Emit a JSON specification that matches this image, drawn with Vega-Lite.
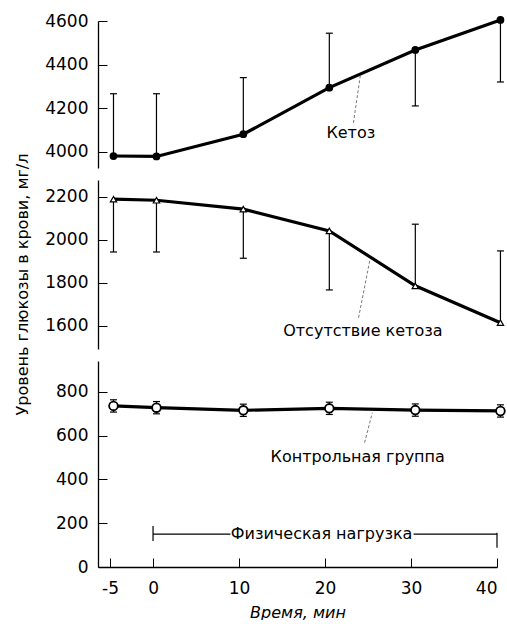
{
  "$schema": "https://vega.github.io/schema/vega-lite/v6.json",
  "background": "white",
  "padding": {"left": 13, "top": 12, "right": 5, "bottom": 0},
  "spacing": 12,
  "bounds": "flush",
  "config": {
    "view": {"stroke": null},
    "axis": {
      "grid": false,
      "domainColor": "black",
      "domainWidth": 1.3,
      "tickColor": "black",
      "tickWidth": 1,
      "tickSize": -9,
      "labelPadding": 19,
      "labelColor": "black",
      "labelFont": "DejaVu Sans",
      "labelFontSize": 17,
      "format": "d",
      "titleColor": "black",
      "titleFont": "DejaVu Sans",
      "titleFontWeight": "normal",
      "titleFontSize": 16
    },
    "axisX": {"labelPadding": 22, "titlePadding": 8, "labelExpr": "replace(datum.label, '−', '-')"},
    "text": {"font": "DejaVu Sans", "fontSize": 16, "color": "black"}
  },
  "datasets": {
    "series": [
      {"g": "k", "t": -4.6, "v": 3980, "e1": 3980, "e2": 4266},
      {"g": "k", "t": 0.4, "v": 3978, "e1": 3978, "e2": 4266},
      {"g": "k", "t": 10.5, "v": 4080, "e1": 4080, "e2": 4340},
      {"g": "k", "t": 20.5, "v": 4294, "e1": 4294, "e2": 4544},
      {"g": "k", "t": 30.5, "v": 4467, "e1": 4467, "e2": 4210},
      {"g": "k", "t": 40.4, "v": 4605, "e1": 4605, "e2": 4320},
      {"g": "n", "t": -4.6, "v": 2188, "e1": 2188, "e2": 1943},
      {"g": "n", "t": 0.4, "v": 2183, "e1": 2183, "e2": 1943},
      {"g": "n", "t": 10.5, "v": 2142, "e1": 2142, "e2": 1914},
      {"g": "n", "t": 20.5, "v": 2041, "e1": 2041, "e2": 1767},
      {"g": "n", "t": 30.5, "v": 1786, "e1": 1786, "e2": 2072},
      {"g": "n", "t": 40.4, "v": 1615, "e1": 1615, "e2": 1948},
      {"g": "c", "t": -4.6, "v": 735, "e1": 707, "e2": 763},
      {"g": "c", "t": 0.4, "v": 727, "e1": 699, "e2": 755},
      {"g": "c", "t": 10.5, "v": 715, "e1": 687, "e2": 743},
      {"g": "c", "t": 20.5, "v": 724, "e1": 696, "e2": 752},
      {"g": "c", "t": 30.5, "v": 716, "e1": 688, "e2": 744},
      {"g": "c", "t": 40.4, "v": 712, "e1": 684, "e2": 740}
    ],
    "labels": [
      {"g": "k", "t": 23.0, "v": 4087, "txt": "Кетоз"},
      {"g": "n", "t": 24.4, "v": 1577, "txt": "Отсутствие кетоза"},
      {"g": "c", "t": 23.8, "v": 503, "txt": "Контрольная группа"},
      {"g": "c", "t": 19.6, "v": 150, "txt": "Физическая нагрузка"}
    ],
    "leaders": [
      {"g": "k", "t": 23.3, "t2": 24.1, "v": 4132, "v2": 4348},
      {"g": "n", "t": 23.9, "t2": 25.2, "v": 1638, "v2": 1902},
      {"g": "c", "t": 24.6, "t2": 25.5, "v": 567, "v2": 704}
    ],
    "load": [
      {"t": 0, "t2": 9.0, "v": 150, "v2": 150},
      {"t": 30.3, "t2": 40, "v": 150, "v2": 150},
      {"t": 0, "t2": 0, "v": 119, "v2": 187},
      {"t": 40, "t2": 40, "v": 88, "v2": 156}
    ]
  },
  "vconcat": [
    {
      "width": 399,
      "height": 147,
      "layer": [
        {
          "data": {"name": "series"},
          "transform": [{"filter": "datum.g === 'k'"}],
          "mark": {"type": "rule", "color": "black", "strokeWidth": 1.2},
          "encoding": {
            "x": {"field": "t", "type": "quantitative", "scale": {"domain": [-6.4, 40], "nice": false, "zero": false}, "axis": null},
            "y": {"field": "e1", "type": "quantitative", "scale": {"domain": [3925, 4600], "nice": false, "zero": false}, "axis": {"values": [4000, 4200, 4400, 4600], "title": null}},
            "y2": {"field": "e2"}
          }
        },
        {
          "data": {"name": "series"},
          "transform": [{"filter": "datum.g === 'k'"}],
          "mark": {"type": "point", "shape": "M-1,0L1,0", "filled": false, "stroke": "black", "strokeWidth": 1.2, "size": 49, "opacity": 1},
          "encoding": {
            "x": {"field": "t", "type": "quantitative", "scale": {"domain": [-6.4, 40], "nice": false, "zero": false}, "axis": null},
            "y": {"field": "e2", "type": "quantitative", "scale": {"domain": [3925, 4600], "nice": false, "zero": false}, "axis": {"values": [4000, 4200, 4400, 4600], "title": null}}
          }
        },
        {
          "data": {"name": "series"},
          "transform": [{"filter": "datum.g === 'k'"}],
          "mark": {"type": "line", "color": "black", "strokeWidth": 3.2},
          "encoding": {
            "x": {"field": "t", "type": "quantitative", "scale": {"domain": [-6.4, 40], "nice": false, "zero": false}, "axis": null},
            "y": {"field": "v", "type": "quantitative", "scale": {"domain": [3925, 4600], "nice": false, "zero": false}, "axis": {"values": [4000, 4200, 4400, 4600], "title": null}}
          }
        },
        {
          "data": {"name": "series"},
          "transform": [{"filter": "datum.g === 'k'"}],
          "mark": {"type": "point", "shape": "circle", "filled": true, "color": "black", "size": 60, "opacity": 1},
          "encoding": {
            "x": {"field": "t", "type": "quantitative", "scale": {"domain": [-6.4, 40], "nice": false, "zero": false}, "axis": null},
            "y": {"field": "v", "type": "quantitative", "scale": {"domain": [3925, 4600], "nice": false, "zero": false}, "axis": {"values": [4000, 4200, 4400, 4600], "title": null}}
          }
        },
        {
          "data": {"name": "leaders"},
          "transform": [{"filter": "datum.g === 'k'"}],
          "mark": {"type": "rule", "color": "#555", "strokeWidth": 0.8, "strokeDash": [3, 2]},
          "encoding": {
            "x": {"field": "t", "type": "quantitative", "scale": {"domain": [-6.4, 40], "nice": false, "zero": false}, "axis": null},
            "x2": {"field": "t2"},
            "y": {"field": "v", "type": "quantitative", "scale": {"domain": [3925, 4600], "nice": false, "zero": false}, "axis": {"values": [4000, 4200, 4400, 4600], "title": null}},
            "y2": {"field": "v2"}
          }
        },
        {
          "data": {"name": "labels"},
          "transform": [{"filter": "datum.g === 'k'"}],
          "mark": {"type": "text", "align": "center", "baseline": "middle"},
          "encoding": {
            "x": {"field": "t", "type": "quantitative", "scale": {"domain": [-6.4, 40], "nice": false, "zero": false}, "axis": null},
            "y": {"field": "v", "type": "quantitative", "scale": {"domain": [3925, 4600], "nice": false, "zero": false}, "axis": {"values": [4000, 4200, 4400, 4600], "title": null}},
            "text": {"field": "txt"}
          }
        }
      ]
    },
    {
      "width": 399,
      "height": 169,
      "layer": [
        {
          "data": {"name": "series"},
          "transform": [{"filter": "datum.g === 'n'"}],
          "mark": {"type": "rule", "color": "black", "strokeWidth": 1.2},
          "encoding": {
            "x": {"field": "t", "type": "quantitative", "scale": {"domain": [-6.4, 40], "nice": false, "zero": false}, "axis": null},
            "y": {"field": "e1", "type": "quantitative", "scale": {"domain": [1493, 2277], "nice": false, "zero": false}, "axis": {"values": [1600, 1800, 2000, 2200], "title": "Уровень глюкозы в крови, мг/л", "titleX": -68, "titleY": 104}},
            "y2": {"field": "e2"}
          }
        },
        {
          "data": {"name": "series"},
          "transform": [{"filter": "datum.g === 'n'"}],
          "mark": {"type": "point", "shape": "M-1,0L1,0", "filled": false, "stroke": "black", "strokeWidth": 1.2, "size": 49, "opacity": 1},
          "encoding": {
            "x": {"field": "t", "type": "quantitative", "scale": {"domain": [-6.4, 40], "nice": false, "zero": false}, "axis": null},
            "y": {"field": "e2", "type": "quantitative", "scale": {"domain": [1493, 2277], "nice": false, "zero": false}, "axis": {"values": [1600, 1800, 2000, 2200], "title": "Уровень глюкозы в крови, мг/л", "titleX": -68, "titleY": 104}}
          }
        },
        {
          "data": {"name": "series"},
          "transform": [{"filter": "datum.g === 'n'"}],
          "mark": {"type": "line", "color": "black", "strokeWidth": 3.2},
          "encoding": {
            "x": {"field": "t", "type": "quantitative", "scale": {"domain": [-6.4, 40], "nice": false, "zero": false}, "axis": null},
            "y": {"field": "v", "type": "quantitative", "scale": {"domain": [1493, 2277], "nice": false, "zero": false}, "axis": {"values": [1600, 1800, 2000, 2200], "title": "Уровень глюкозы в крови, мг/л", "titleX": -68, "titleY": 104}}
          }
        },
        {
          "data": {"name": "series"},
          "transform": [{"filter": "datum.g === 'n'"}],
          "mark": {"type": "point", "shape": "triangle-up", "filled": true, "fill": "white", "stroke": "black", "strokeWidth": 1.2, "size": 40, "opacity": 1},
          "encoding": {
            "x": {"field": "t", "type": "quantitative", "scale": {"domain": [-6.4, 40], "nice": false, "zero": false}, "axis": null},
            "y": {"field": "v", "type": "quantitative", "scale": {"domain": [1493, 2277], "nice": false, "zero": false}, "axis": {"values": [1600, 1800, 2000, 2200], "title": "Уровень глюкозы в крови, мг/л", "titleX": -68, "titleY": 104}}
          }
        },
        {
          "data": {"name": "leaders"},
          "transform": [{"filter": "datum.g === 'n'"}],
          "mark": {"type": "rule", "color": "#555", "strokeWidth": 0.8, "strokeDash": [3, 2]},
          "encoding": {
            "x": {"field": "t", "type": "quantitative", "scale": {"domain": [-6.4, 40], "nice": false, "zero": false}, "axis": null},
            "x2": {"field": "t2"},
            "y": {"field": "v", "type": "quantitative", "scale": {"domain": [1493, 2277], "nice": false, "zero": false}, "axis": {"values": [1600, 1800, 2000, 2200], "title": "Уровень глюкозы в крови, мг/л", "titleX": -68, "titleY": 104}},
            "y2": {"field": "v2"}
          }
        },
        {
          "data": {"name": "labels"},
          "transform": [{"filter": "datum.g === 'n'"}],
          "mark": {"type": "text", "align": "center", "baseline": "middle"},
          "encoding": {
            "x": {"field": "t", "type": "quantitative", "scale": {"domain": [-6.4, 40], "nice": false, "zero": false}, "axis": null},
            "y": {"field": "v", "type": "quantitative", "scale": {"domain": [1493, 2277], "nice": false, "zero": false}, "axis": {"values": [1600, 1800, 2000, 2200], "title": "Уровень глюкозы в крови, мг/л", "titleX": -68, "titleY": 104}},
            "text": {"field": "txt"}
          }
        }
      ]
    },
    {
      "width": 399,
      "height": 206,
      "layer": [
        {
          "data": {"name": "series"},
          "transform": [{"filter": "datum.g === 'c'"}],
          "mark": {"type": "rule", "color": "black", "strokeWidth": 1.2},
          "encoding": {
            "x": {"field": "t", "type": "quantitative", "scale": {"domain": [-6.4, 40], "nice": false, "zero": false}, "axis": {"values": [-5, 0, 10, 20, 30, 40], "title": "Время, мин", "titleFontStyle": "italic"}},
            "y": {"field": "e1", "type": "quantitative", "scale": {"domain": [0, 940], "nice": false, "zero": false}, "axis": {"values": [0, 200, 400, 600, 800], "title": null}},
            "y2": {"field": "e2"}
          }
        },
        {
          "data": {"name": "series"},
          "transform": [{"filter": "datum.g === 'c'"}],
          "mark": {"type": "point", "shape": "M-1,0L1,0", "filled": false, "stroke": "black", "strokeWidth": 1.2, "size": 49, "opacity": 1},
          "encoding": {
            "x": {"field": "t", "type": "quantitative", "scale": {"domain": [-6.4, 40], "nice": false, "zero": false}, "axis": {"values": [-5, 0, 10, 20, 30, 40], "title": "Время, мин", "titleFontStyle": "italic"}},
            "y": {"field": "e2", "type": "quantitative", "scale": {"domain": [0, 940], "nice": false, "zero": false}, "axis": {"values": [0, 200, 400, 600, 800], "title": null}}
          }
        },
        {
          "data": {"name": "series"},
          "transform": [{"filter": "datum.g === 'c'"}],
          "mark": {"type": "point", "shape": "M-1,0L1,0", "filled": false, "stroke": "black", "strokeWidth": 1.2, "size": 49, "opacity": 1},
          "encoding": {
            "x": {"field": "t", "type": "quantitative", "scale": {"domain": [-6.4, 40], "nice": false, "zero": false}, "axis": {"values": [-5, 0, 10, 20, 30, 40], "title": "Время, мин", "titleFontStyle": "italic"}},
            "y": {"field": "e1", "type": "quantitative", "scale": {"domain": [0, 940], "nice": false, "zero": false}, "axis": {"values": [0, 200, 400, 600, 800], "title": null}}
          }
        },
        {
          "data": {"name": "series"},
          "transform": [{"filter": "datum.g === 'c'"}],
          "mark": {"type": "line", "color": "black", "strokeWidth": 3.2},
          "encoding": {
            "x": {"field": "t", "type": "quantitative", "scale": {"domain": [-6.4, 40], "nice": false, "zero": false}, "axis": {"values": [-5, 0, 10, 20, 30, 40], "title": "Время, мин", "titleFontStyle": "italic"}},
            "y": {"field": "v", "type": "quantitative", "scale": {"domain": [0, 940], "nice": false, "zero": false}, "axis": {"values": [0, 200, 400, 600, 800], "title": null}}
          }
        },
        {
          "data": {"name": "series"},
          "transform": [{"filter": "datum.g === 'c'"}],
          "mark": {"type": "point", "shape": "circle", "filled": true, "fill": "white", "stroke": "black", "strokeWidth": 1.8, "size": 75, "opacity": 1},
          "encoding": {
            "x": {"field": "t", "type": "quantitative", "scale": {"domain": [-6.4, 40], "nice": false, "zero": false}, "axis": {"values": [-5, 0, 10, 20, 30, 40], "title": "Время, мин", "titleFontStyle": "italic"}},
            "y": {"field": "v", "type": "quantitative", "scale": {"domain": [0, 940], "nice": false, "zero": false}, "axis": {"values": [0, 200, 400, 600, 800], "title": null}}
          }
        },
        {
          "data": {"name": "leaders"},
          "transform": [{"filter": "datum.g === 'c'"}],
          "mark": {"type": "rule", "color": "#555", "strokeWidth": 0.8, "strokeDash": [3, 2]},
          "encoding": {
            "x": {"field": "t", "type": "quantitative", "scale": {"domain": [-6.4, 40], "nice": false, "zero": false}, "axis": {"values": [-5, 0, 10, 20, 30, 40], "title": "Время, мин", "titleFontStyle": "italic"}},
            "x2": {"field": "t2"},
            "y": {"field": "v", "type": "quantitative", "scale": {"domain": [0, 940], "nice": false, "zero": false}, "axis": {"values": [0, 200, 400, 600, 800], "title": null}},
            "y2": {"field": "v2"}
          }
        },
        {
          "data": {"name": "load"},
          "mark": {"type": "rule", "color": "black", "strokeWidth": 1.2},
          "encoding": {
            "x": {"field": "t", "type": "quantitative", "scale": {"domain": [-6.4, 40], "nice": false, "zero": false}, "axis": {"values": [-5, 0, 10, 20, 30, 40], "title": "Время, мин", "titleFontStyle": "italic"}},
            "x2": {"field": "t2"},
            "y": {"field": "v", "type": "quantitative", "scale": {"domain": [0, 940], "nice": false, "zero": false}, "axis": {"values": [0, 200, 400, 600, 800], "title": null}},
            "y2": {"field": "v2"}
          }
        },
        {
          "data": {"name": "labels"},
          "transform": [{"filter": "datum.g === 'c'"}],
          "mark": {"type": "text", "align": "center", "baseline": "middle"},
          "encoding": {
            "x": {"field": "t", "type": "quantitative", "scale": {"domain": [-6.4, 40], "nice": false, "zero": false}, "axis": {"values": [-5, 0, 10, 20, 30, 40], "title": "Время, мин", "titleFontStyle": "italic"}},
            "y": {"field": "v", "type": "quantitative", "scale": {"domain": [0, 940], "nice": false, "zero": false}, "axis": {"values": [0, 200, 400, 600, 800], "title": null}},
            "text": {"field": "txt"}
          }
        }
      ]
    }
  ]
}
